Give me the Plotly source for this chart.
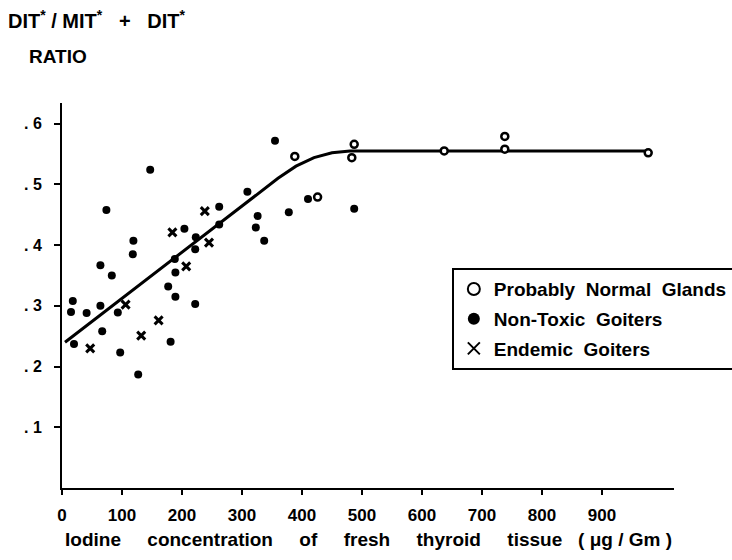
import plotly.graph_objects as go

# ---- data ----
normal_x = [388, 426, 483, 487, 637, 738, 738, 977]
normal_y = [0.546, 0.479, 0.544, 0.566, 0.555, 0.558, 0.579, 0.552]

nontoxic_x = [147, 74, 119, 118, 64, 83, 18, 15, 41, 64, 93, 67, 20, 97, 127,
              181, 177, 189, 222, 188, 189, 204, 223, 222, 262, 262, 309, 326,
              323, 337, 378, 355, 410, 487]
nontoxic_y = [0.524, 0.458, 0.407, 0.385, 0.367, 0.350, 0.308, 0.290, 0.288,
              0.300, 0.289, 0.258, 0.237, 0.223, 0.187, 0.241, 0.332, 0.315,
              0.303, 0.377, 0.355, 0.427, 0.413, 0.393, 0.463, 0.434, 0.488,
              0.448, 0.429, 0.407, 0.454, 0.572, 0.476, 0.460]

endemic_x = [106, 47, 132, 161, 184, 207, 245, 238]
endemic_y = [0.302, 0.230, 0.251, 0.276, 0.421, 0.365, 0.404, 0.456]

curve_x = [5, 100, 200, 300, 360, 390, 420, 450, 480, 500, 977]
curve_y = [0.240, 0.312, 0.388, 0.464, 0.510, 0.530, 0.544, 0.552, 0.555, 0.555, 0.555]

x_ticks = [0, 100, 200, 300, 400, 500, 600, 700, 800, 900]
y_ticks = [0.1, 0.2, 0.3, 0.4, 0.5, 0.6]
y_ticktext = [". 1", ". 2", ". 3", ". 4", ". 5", ". 6"]

FONT = "Liberation Sans, Arial, sans-serif"
NB = "\u00a0"

fig = go.Figure()
fig.add_trace(go.Scatter(x=curve_x, y=curve_y, mode="lines",
                         line=dict(color="black", width=3),
                         showlegend=False, hoverinfo="skip"))
fig.add_trace(go.Scatter(x=normal_x, y=normal_y, mode="markers",
                         name="Probably" + NB * 2 + "Normal" + NB * 2 + "Glands",
                         legendgroup="a",
                         marker=dict(symbol="circle", size=7, color="white",
                                     line=dict(color="black", width=2.5))))
fig.add_trace(go.Scatter(x=nontoxic_x, y=nontoxic_y, mode="markers",
                         name="Non-Toxic" + NB * 2 + "Goiters",
                         legendgroup="b",
                         marker=dict(symbol="circle", size=8, color="black")))
fig.add_trace(go.Scatter(x=endemic_x, y=endemic_y, mode="markers",
                         name="Endemic" + NB * 2 + "Goiters",
                         legendgroup="c",
                         marker=dict(symbol="x-thin", size=8, color="black",
                                     line=dict(color="black", width=3))))

fig.update_layout(
    width=732, height=560,
    margin=dict(l=62, r=58, t=103, b=72, autoexpand=False),
    paper_bgcolor="white", plot_bgcolor="white",
    font=dict(family=FONT, color="black", size=16, weight="bold"),
    legend=dict(x=0.637, y=0.571, xanchor="left", yanchor="top",
                bordercolor="black", borderwidth=2, bgcolor="white",
                font=dict(family=FONT, size=19, color="black", weight="bold"),
                itemwidth=30, tracegroupgap=2, itemsizing="constant"),
    xaxis=dict(range=[0, 1020], showline=True, linewidth=2, linecolor="black",
               ticks="outside", ticklen=5, tickwidth=2, tickcolor="black",
               tickvals=x_ticks, showgrid=False, zeroline=False,
               ticklabelstandoff=6,
               tickfont=dict(family=FONT, size=17, weight="bold")),
    yaxis=dict(range=[0, 0.634], showline=True, linewidth=2, linecolor="black",
               ticks="outside", ticklen=6, tickwidth=2, tickcolor="black",
               tickvals=y_ticks, ticktext=y_ticktext, showgrid=False,
               zeroline=False, ticklabelstandoff=9,
               tickfont=dict(family=FONT, size=16, weight="bold")),
    annotations=[
        dict(text="DIT<sup>*</sup>" + NB + "/" + NB + "MIT<sup>*</sup>" + NB * 3 + "+" + NB * 3 + "DIT<sup>*</sup>",
             x=-0.0915, y=1.218, xref="paper", yref="paper",
             xanchor="left", yanchor="middle", showarrow=False,
             font=dict(family=FONT, size=20, weight="bold")),
        dict(text="RATIO", x=-0.0572, y=1.122, xref="paper", yref="paper",
             xanchor="left", yanchor="middle", showarrow=False,
             font=dict(family=FONT, size=19, weight="bold")),
        dict(text=("Iodine" + NB * 5 + "concentration" + NB * 5 + "of" + NB * 5 + "fresh"
                   + NB * 5 + "thyroid" + NB * 5 + "tissue" + NB * 3 + "(" + NB + "μg" + NB + "/" + NB + "Gm" + NB + ")"),
             x=0.5, y=-0.135, xref="paper", yref="paper",
             xanchor="center", yanchor="middle", showarrow=False,
             font=dict(family=FONT, size=19, weight="bold")),
    ],
)

fig.write_html("out.html")
